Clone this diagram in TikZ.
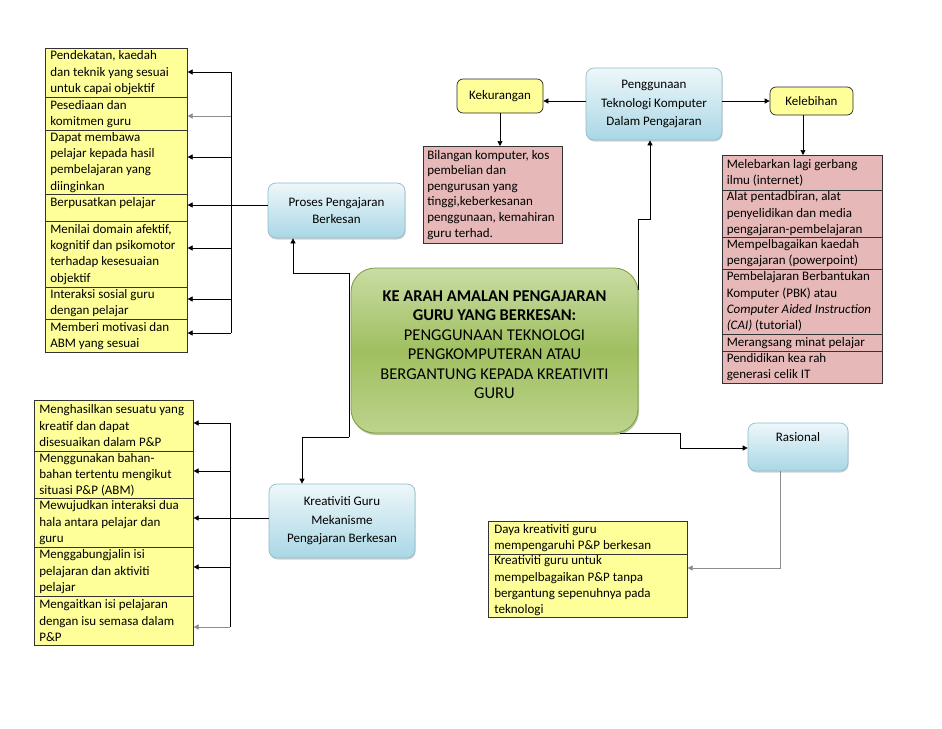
\documentclass[tikz,border=0pt]{standalone}
\usepackage{fontspec}
\setmainfont{Carlito}
\usetikzlibrary{arrows.meta,shadows}
\definecolor{yel}{HTML}{FFFF99}
\definecolor{pnk}{HTML}{E6B9B8}
\definecolor{bTop}{HTML}{EEF7FA}
\definecolor{bBot}{HTML}{A9D7E5}
\definecolor{bLine}{HTML}{8FBCCB}
\definecolor{gTop}{HTML}{C9DCA3}
\definecolor{gMid}{HTML}{A0BF60}
\definecolor{gBot}{HTML}{BCD38C}
\definecolor{gLine}{HTML}{7A9A40}
\definecolor{lineGray}{HTML}{8C8C8C}
\newcommand\lfont{\fontsize{13}{16.3}\selectfont}
\newcommand\kfont{\fontsize{13}{15.6}\selectfont}
\newcommand\nfont{\fontsize{13}{18.5}\selectfont}
\newcommand\cfont{\fontsize{16.5}{19.5}\selectfont}
\begin{document}
\begin{tikzpicture}[x=1pt,y=-1pt,
  cell/.style={draw=black!80, line width=0.6pt, anchor=north west, inner xsep=5pt, inner ysep=0pt, align=flush left, font=\lfont},
  ycell/.style={cell, fill=yel},
  pcell/.style={cell, fill=pnk},
  bluebox/.style={draw=bLine, line width=0.7pt, rounded corners=8pt, top color=bTop, bottom color=bBot, align=center, font=\nfont, inner sep=0pt,
     drop shadow={opacity=0.35, shadow xshift=0.6pt, shadow yshift=-1.5pt}},
  yelbox/.style={draw=black!85, line width=0.7pt, fill=yel, rounded corners=6pt, align=center, font=\lfont, inner sep=0pt},
  link/.style={draw=black, line width=0.7pt},
  arr/.style={link, -{Triangle[length=5pt,width=5pt]}}
]
\useasboundingbox (0,0) rectangle (942,728);

% ---------- centre ----------
\node[draw=gLine, line width=0.8pt, rounded corners=24pt, minimum width=287pt, minimum height=165pt,
      top color=gTop, bottom color=gBot, middle color=gMid, align=center, font=\cfont, inner sep=0pt, text depth=12pt,
      drop shadow={fill=gLine!80!black, opacity=0.45, shadow xshift=1pt, shadow yshift=-2pt}]
  (centre) at (494.5,350.5)
  {\textbf{KE ARAH AMALAN PENGAJARAN}\\\textbf{GURU YANG BERKESAN:}\\PENGGUNAAN TEKNOLOGI\\PENGKOMPUTERAN ATAU\\BERGANTUNG KEPADA KREATIVITI\\GURU};

% ---------- blue nodes ----------
\node[bluebox, minimum width=137pt, minimum height=55pt, font=\fontsize{13}{17.5}\selectfont] (proses) at (336.5,210.5) {Proses Pengajaran\\Berkesan};
\node[bluebox, minimum width=146pt, minimum height=74pt] (kreat) at (342,521) {Kreativiti Guru\\Mekanisme\\Pengajaran Berkesan};
\node[bluebox, minimum width=136pt, minimum height=72pt] (peng) at (654,104) {Penggunaan\\Teknologi Komputer\\Dalam Pengajaran};
\node[bluebox, minimum width=100pt, minimum height=48pt, text depth=21pt] (ras) at (798,447) {Rasional};

% ---------- yellow small nodes ----------
\node[yelbox, minimum width=86pt, minimum height=34pt] (kek) at (500,96) {Kekurangan};
\node[yelbox, minimum width=83pt, minimum height=28pt] (keleb) at (811.5,101) {Kelebihan};

% ---------- left top list ----------
\node[ycell, text width=132pt, minimum height=49pt] (l1) at (45,48) {Pendekatan, kaedah\\dan teknik yang sesuai\\untuk capai objektif};
\node[ycell, text width=132pt, minimum height=33pt] (l2) at (45,97) {Pesediaan dan\\komitmen guru};
\node[ycell, text width=132pt, minimum height=64pt] (l3) at (45,130) {Dapat membawa\\pelajar kepada hasil\\pembelajaran yang\\diinginkan};
\node[ycell, text width=132pt, minimum height=27pt, text depth=10.8pt] (l4) at (45,194) {Berpusatkan pelajar};
\node[ycell, text width=132pt, minimum height=66pt] (l5) at (45,221) {Menilai domain afektif,\\kognitif dan psikomotor\\terhadap kesesuaian\\objektif};
\node[ycell, text width=132pt, minimum height=32pt] (l6) at (45,287) {Interaksi sosial guru\\dengan pelajar};
\node[ycell, text width=132pt, minimum height=33pt] (l7) at (45,319) {Memberi motivasi dan\\ABM yang sesuai};

% ---------- left bottom list ----------
\node[ycell, text width=149pt, minimum height=51pt] (m1) at (34,400) {Menghasilkan sesuatu yang\\kreatif dan dapat\\disesuaikan dalam P\&P};
\node[ycell, text width=149pt, minimum height=47pt] (m2) at (34,451) {Menggunakan bahan-\\bahan tertentu mengikut\\situasi P\&P (ABM)};
\node[ycell, text width=149pt, minimum height=49pt] (m3) at (34,498) {Mewujudkan interaksi dua\\hala antara pelajar dan\\guru};
\node[ycell, text width=149pt, minimum height=49pt] (m4) at (34,547) {Menggabungjalin isi\\pelajaran dan aktiviti\\pelajar};
\node[ycell, text width=149pt, minimum height=49pt] (m5) at (34,596) {Mengaitkan isi pelajaran\\dengan isu semasa dalam\\P\&P};

% ---------- kekurangan box ----------
\node[pcell, inner xsep=4pt, text width=131pt, minimum height=97pt, font=\kfont] (pk) at (423,146) {Bilangan komputer, kos\\pembelian dan\\pengurusan yang\\tinggi,keberkesanan\\penggunaan, kemahiran\\guru terhad.};

% ---------- right list ----------
\node[pcell, inner xsep=4.5pt, text width=151pt, minimum height=35pt] (r1) at (722,155) {Melebarkan lagi gerbang\\ilmu (internet)};
\node[pcell, inner xsep=4.5pt, text width=151pt, minimum height=47pt] (r2) at (722,190) {Alat pentadbiran, alat\\penyelidikan dan media\\pengajaran-pembelajaran};
\node[pcell, inner xsep=4.5pt, text width=151pt, minimum height=32pt] (r3) at (722,237) {Mempelbagaikan kaedah\\pengajaran (powerpoint)};
\node[pcell, inner xsep=4.5pt, text width=151pt, minimum height=65pt] (r4) at (722,269) {Pembelajaran Berbantukan\\Komputer (PBK) atau\\\textit{Computer Aided Instruction}\\\textit{(CAI)} (tutorial)};
\node[pcell, inner xsep=4.5pt, text width=151pt, minimum height=17pt] (r5) at (722,334) {Merangsang minat pelajar};
\node[pcell, inner xsep=4.5pt, text width=151pt, minimum height=32pt] (r6) at (722,351) {Pendidikan kea rah\\generasi celik IT};

% ---------- bottom right list ----------
\node[ycell, inner xsep=6pt, text width=187pt, minimum height=33pt] (b1) at (488,521) {Daya kreativiti guru\\mempengaruhi P\&P berkesan};
\node[ycell, inner xsep=6pt, text width=187pt, minimum height=63pt] (b2) at (488,554) {Kreativiti guru untuk\\mempelbagaikan P\&P tanpa\\bergantung sepenuhnya pada\\teknologi};

% ---------- routing coordinates ----------
\coordinate (bt1) at (231,72);
\coordinate (bt2) at (231,116);
\coordinate (bt3) at (231,157);
\coordinate (bt4) at (231,205);
\coordinate (bt5) at (231,248);
\coordinate (bt6) at (231,299);
\coordinate (bt7) at (231,333);
\coordinate (bb1) at (230,423);
\coordinate (bb2) at (230,471);
\coordinate (bb3) at (230,518);
\coordinate (bb4) at (230,567);
\coordinate (bb5) at (230,627);
\coordinate (pA) at (293,273);
\coordinate (kA) at (302,437);
\coordinate (cLx) at (349,300);
\coordinate (tS) at (638,290);
\coordinate (tA) at (638,219);
\coordinate (tB) at (650,219);
\coordinate (rS) at (620,433);
\coordinate (rA) at (680,433);
\coordinate (rB) at (680,448);
\coordinate (rC) at (780,568);
\coordinate (kY) at (0,101);
\coordinate (lX) at (803,0);

% ---------- connectors: left top ----------
\draw[link] (bt1) -- (bt7);
\foreach \i in {1,3,4,5,6,7} \draw[arr] (bt\i) -- (l\i.east |- bt\i);
\draw[arr, draw=lineGray] (bt2) -- (l2.east |- bt2);
\draw[link] (proses.west |- bt4) -- (bt4);

% ---------- connectors: left bottom ----------
\draw[link] (bb1) -- (bb5);
\foreach \i in {1,2,3,4} \draw[arr] (bb\i) -- (m\i.east |- bb\i);
\draw[arr, draw=lineGray] (bb5) -- (m5.east |- bb5);
\draw[link] (kreat.west |- bb3) -- (bb3);

% ---------- centre to proses / kreativiti ----------
\draw[arr] (cLx |- pA) -- (pA) -- (pA |- proses.south);
\draw[link] (cLx |- pA) -- (cLx |- kA);
\draw[arr] (cLx |- kA) -- (kA) -- (kA |- kreat.north);

% ---------- centre to penggunaan ----------
\draw[arr] (tS) -- (tA) -- (tB) -- (tB |- peng.south);

% ---------- penggunaan branches ----------
\draw[arr] (peng.west |- kY) -- (kek.east |- kY);
\draw[arr] (peng.east |- keleb.west) -- (keleb.west);
\draw[arr] (kek.south) -- (kek.south |- pk.north);
\draw[arr] (lX |- keleb.south) -- (lX |- r1.north);

% ---------- centre to rasional ----------
\draw[arr] (rS) -- (rA) -- (rB) -- (ras.west |- rB);
\draw[arr, draw=lineGray] (rC |- ras.south) -- (rC) -- (b2.east |- rC);
\end{tikzpicture}
\end{document}
